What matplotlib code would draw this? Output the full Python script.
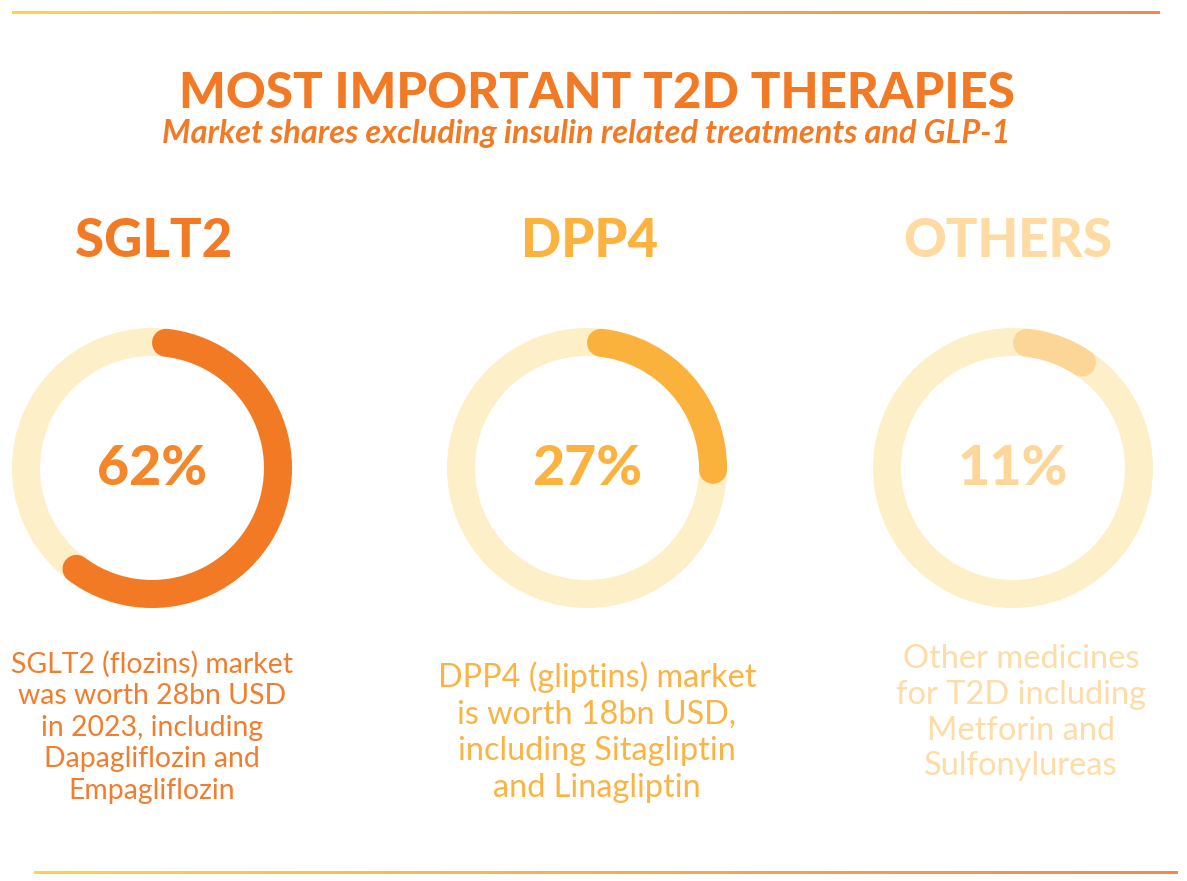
import numpy as np
import matplotlib.pyplot as plt
from matplotlib.patches import Wedge, Arc
from matplotlib.colors import LinearSegmentedColormap

# data
categories = ["SGLT2", "DPP4", "OTHERS"]
shares = [62, 27, 11]
descriptions = [
    ["SGLT2 (flozins) market", "was worth 28bn USD", "in 2023, including",
     "Dapagliflozin and", "Empagliflozin"],
    ["DPP4 (gliptins) market", "is worth 18bn USD,", "including Sitagliptin",
     "and Linagliptin"],
    ["Other medicines", "for T2D including", "Metforin and", "Sulfonylureas"],
]
title = "MOST IMPORTANT T2D THERAPIES"
subtitle = "Market shares excluding insulin related treatments and GLP-1"

# style
ring_colors = ["#F37A25", "#FAB23C", "#FCD697"]
head_colors = ["#F37A25", "#FBB23E", "#FDDBA2"]
pct_colors = ["#F5862A", "#FBB23E", "#FDD699"]
text_colors = ["#F27D2C", "#FBB444", "#FDDCA6"]
track_color = "#FDF0C8"
centers_x = [152, 587, 1013]
heads_x = [154, 590, 1008]
texts_x = [152, 597, 1021]
text_y0 = [673, 687, 668]
text_step = [31.5, 36.7, 35.8]
text_size = [20.4, 23.3, 23.5]

W, H = 1187, 881
fig = plt.figure(figsize=(W / 100, H / 100), dpi=100)
ax = fig.add_axes([0, 0, 1, 1])
ax.set_xlim(0, W)
ax.set_ylim(H, 0)
ax.axis("off")

# gradient rules top and bottom
grad = LinearSegmentedColormap.from_list("g", ["#F8D64B", "#F08A4E"])
g = np.linspace(0, 1, 256).reshape(1, -1)
ax.imshow(g, cmap=grad, extent=(12, 1160, 14, 11), aspect="auto")
ax.imshow(g, cmap=grad, extent=(34, 1178, 874, 871), aspect="auto")
ax.set_xlim(0, W)
ax.set_ylim(H, 0)

ax.text(597, 108, title, ha="center", va="baseline", fontsize=35.5,
        fontweight="black", family="Lato", color="#F37A25")
ax.text(586, 143, subtitle, ha="center", va="baseline", fontsize=23.4,
        fontweight="bold", style="italic", family="Lato", color="#F37A25")

cy = 468
r_out, ring_w = 140, 28
r_mid = r_out - ring_w / 2
lw = ring_w * 72 / 100
cap = np.degrees((ring_w / 2) / r_mid)

for i, cat in enumerate(categories):
    cx = centers_x[i]
    ax.add_patch(Wedge((cx, cy), r_out, 0, 360, width=ring_w,
                       color=track_color, lw=0))
    # y axis is inverted, so angles run clockwise on screen
    t1 = -90 + cap
    t2 = -90 + shares[i] / 100 * 360 - cap
    arc = Arc((cx, cy), 2 * r_mid, 2 * r_mid, theta1=t1, theta2=t2,
              lw=lw, color=ring_colors[i], capstyle="round")
    ax.add_patch(arc)
    ax.text(cx, 485, f"{shares[i]}%", ha="center", va="baseline",
            fontsize=40, fontweight="black", family="Lato", color=pct_colors[i])
    ax.text(heads_x[i], 257, cat, ha="center", va="baseline", fontsize=38,
            fontweight="black", family="Lato", color=head_colors[i])
    for j, line in enumerate(descriptions[i]):
        ax.text(texts_x[i], text_y0[i] + j * text_step[i], line, ha="center",
                va="baseline", fontsize=text_size[i], family="Lato",
                color=text_colors[i])

fig.savefig("out.png", dpi=100)
